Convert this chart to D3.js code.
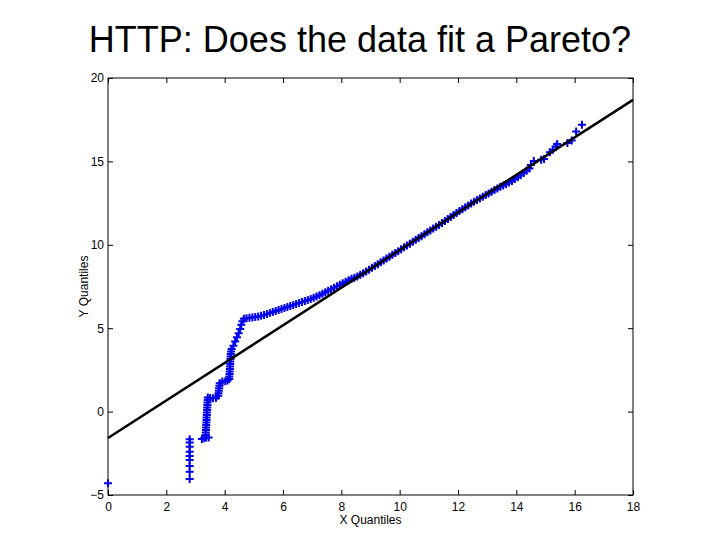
<!DOCTYPE html>
<html>
<head>
<meta charset="utf-8">
<script src="https://cdn.jsdelivr.net/npm/d3@7"></script>
<style>
  body { margin: 0; background: #fff; }
  text { font-family: "Liberation Sans", Arial, sans-serif; }
</style>
</head>
<body>
<div id="canvas"></div>
<script>
// quantile pairs (X quantile, Y quantile)
const qx = [
  0,
  2.8, 2.8, 2.8, 2.8, 2.8, 2.8, 2.8, 2.8, 2.8,
  3.22, 3.3, 3.36, 3.45,
  3.35, 3.35, 3.36, 3.36, 3.37, 3.37, 3.38, 3.38, 3.39, 3.39, 3.4, 3.4, 3.41, 3.41, 3.42, 3.42,
  3.5, 3.6, 3.7,
  3.78, 3.79, 3.8, 3.81, 3.82, 3.83,
  3.92, 4.02, 4.1,
  4.16, 4.16, 4.17, 4.17, 4.18, 4.18, 4.19, 4.19, 4.2, 4.2, 4.21, 4.22,
  4.24, 4.3, 4.36, 4.42, 4.48, 4.53, 4.57, 4.61, 4.66,
  4.75, 4.85, 4.95, 5.05, 5.15, 5.25,
  5.35, 5.45, 5.55, 5.65, 5.75, 5.85, 5.95, 6.05, 6.15, 6.25, 6.35, 6.45, 6.55, 6.65, 6.75, 6.85, 6.95,
  7.05, 7.15, 7.25, 7.35, 7.45, 7.55, 7.65, 7.75, 7.85, 7.95, 8.05, 8.15, 8.25, 8.35, 8.45,
  8.55, 8.65, 8.75, 8.85, 8.95, 9.05, 9.15, 9.25, 9.35, 9.45, 9.55, 9.65, 9.75, 9.85, 9.95,
  10.05, 10.15, 10.25, 10.35, 10.45, 10.55, 10.65, 10.75, 10.85, 10.95,
  11.05, 11.15, 11.25, 11.35, 11.45, 11.55, 11.65, 11.75, 11.85, 11.95,
  12.05, 12.15, 12.25, 12.35, 12.45, 12.55, 12.65, 12.75, 12.85, 12.95,
  13.05, 13.15, 13.25, 13.35, 13.45, 13.55, 13.65, 13.75, 13.85, 13.95,
  14.05, 14.15, 14.25, 14.35, 14.45,
  14.5, 14.6, 14.85, 14.95, 15.15, 15.25, 15.35, 15.4, 15.75, 15.9, 16.05, 16.25
];
const qy = [
  -4.3,
  -4.04, -3.6, -3.26, -2.9, -2.66, -2.4, -2.1, -1.86, -1.66,
  -1.64, -1.6, -1.56, -1.55,
  -1.4, -1.25, -1.1, -0.95, -0.8, -0.65, -0.5, -0.35, -0.2, -0.05, 0.1, 0.25, 0.4, 0.55, 0.7, 0.85,
  0.82, 0.8, 0.82,
  0.95, 1.1, 1.25, 1.4, 1.55, 1.7,
  1.8, 1.82, 1.86,
  1.95, 2.1, 2.25, 2.4, 2.55, 2.7, 2.85, 3.0, 3.15, 3.3, 3.45, 3.6,
  3.75, 3.95, 4.2, 4.45, 4.7, 4.95, 5.2, 5.42, 5.56,
  5.6, 5.62, 5.64, 5.67, 5.7, 5.74,
  5.79, 5.85, 5.91, 5.97, 6.03, 6.09, 6.15, 6.21, 6.27, 6.33, 6.39, 6.45, 6.51, 6.57, 6.63, 6.69, 6.75,
  6.82, 6.9, 6.98, 7.06, 7.15, 7.24, 7.33, 7.43, 7.52, 7.61, 7.7, 7.79, 7.88, 7.96, 8.03,
  8.1, 8.2, 8.3, 8.4, 8.51, 8.62, 8.73, 8.84, 8.95, 9.06, 9.18, 9.29, 9.4, 9.51, 9.62,
  9.74, 9.85, 9.96, 10.07, 10.18, 10.3, 10.41, 10.52, 10.63, 10.75,
  10.86, 10.97, 11.08, 11.19, 11.31, 11.42, 11.54, 11.66, 11.78, 11.9,
  12.02, 12.13, 12.25, 12.36, 12.47, 12.58, 12.68, 12.78, 12.88, 12.98,
  13.08, 13.18, 13.28, 13.38, 13.48, 13.56, 13.64, 13.73, 13.83, 13.94,
  14.05, 14.17, 14.3, 14.44, 14.58,
  14.78, 15.02, 15.1, 15.15, 15.55, 15.7, 15.9, 16.05, 16.1, 16.25, 16.8, 17.2
];
// reference line end points
const fitX = [0, 18];
const fitY = [-1.58, 18.69];
const xTicks = [0, 2, 4, 6, 8, 10, 12, 14, 16, 18];
const yTicks = [-5, 0, 5, 10, 15, 20];

const width = 720;
const height = 540;
const margin = { top: 78, left: 108, bottom: 45, right: 87 };
const iwidth = width - margin.left - margin.right;
const iheight = height - margin.top - margin.bottom;

const svg = d3.select("#canvas").append("svg")
    .attr("width", width)
    .attr("height", height);

svg.append("rect").attr("width", width).attr("height", height).attr("fill", "#fff");

let g = svg.append("g").attr("transform", `translate(${margin.left},${margin.top})`);

const x = d3.scaleLinear().domain([0, 18]).range([0, iwidth]);
const y = d3.scaleLinear().domain([-5, 20]).range([iheight, 0]);

// axes, MATLAB style ticks pointing inward
g.append("g")
    .attr("transform", `translate(0,${iheight})`)
    .call(d3.axisBottom(x).tickValues(xTicks).tickSizeInner(-5).tickSizeOuter(0).tickPadding(7));
g.append("g")
    .call(d3.axisLeft(y).tickValues(yTicks).tickSizeInner(-5).tickSizeOuter(0).tickPadding(4));
g.append("g")
    .call(d3.axisTop(x).tickValues(xTicks).tickSizeInner(-5).tickSizeOuter(0).tickFormat(""));
g.append("g")
    .attr("transform", `translate(${iwidth},0)`)
    .call(d3.axisRight(y).tickValues(yTicks).tickSizeInner(-5).tickSizeOuter(0).tickFormat(""));

g.selectAll(".domain").remove();
g.selectAll(".tick line").attr("stroke", "#000");
g.selectAll(".tick text").attr("font-size", 12).attr("fill", "#000");

g.append("rect")
    .attr("width", iwidth)
    .attr("height", iheight)
    .attr("fill", "none")
    .attr("stroke", "#000")
    .attr("stroke-width", 1);

// data points as plus markers
g.selectAll("path.pt").data(qx)
  .enter().append("path")
    .attr("class", "pt")
    .attr("d", "M-4,0H4M0,-4V4")
    .attr("transform", (d, i) => `translate(${x(d)},${y(qy[i])})`)
    .attr("stroke", "#0000ee")
    .attr("stroke-width", 2)
    .attr("fill", "none");

// fitted line
const line = d3.line().x(d => x(d[0])).y(d => y(d[1]));
g.append("path")
    .datum(fitX.map((d, i) => [d, fitY[i]]))
    .attr("d", line)
    .attr("stroke", "#000")
    .attr("stroke-width", 2.5)
    .attr("fill", "none");

// labels
svg.append("text")
    .attr("x", 360).attr("y", 52)
    .attr("text-anchor", "middle")
    .attr("font-size", 36)
    .text("HTTP: Does the data fit a Pareto?");

svg.append("text")
    .attr("x", margin.left + iwidth / 2).attr("y", 524)
    .attr("text-anchor", "middle")
    .attr("font-size", 12)
    .text("X Quantiles");

svg.append("text")
    .attr("transform", `translate(88,${margin.top + iheight / 2}) rotate(-90)`)
    .attr("text-anchor", "middle")
    .attr("font-size", 12)
    .text("Y Quantiles");
</script>
</body>
</html>
